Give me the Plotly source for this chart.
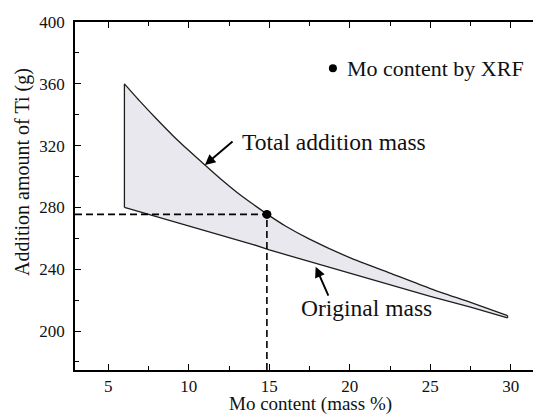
import plotly.graph_objects as go

# Mo content (mass %) sampled along both boundary curves
mo_content = [6, 7, 8, 9, 10, 11, 12, 13, 14, 15, 16, 17.5, 20, 22.5, 25, 27.5, 29.8]
# Total addition mass of Ti (g)
total_mass = [360, 348.3, 337.2, 326.6, 316.8, 307.4, 298.2, 289.7, 282, 274.7,
              268, 259.5, 247.5, 237.5, 227.5, 218.5, 210]
# Original mass of Ti (g)
original_mass = [280, 277, 274, 271, 268, 265, 262, 259, 256, 252.5,
                 249.5, 245, 237.5, 230, 222.5, 215.5, 208.5]

# Mo content measured by XRF and the matching Ti addition amount
xrf_mo = 14.85
xrf_ti = 275.5

x_range = [2.93, 31.38]
y_range = [174.8, 400]

serif = "Liberation Serif"
line_col = "#1e1e1e"

fig = go.Figure()

# lower boundary (original mass)
fig.add_trace(go.Scatter(
    x=mo_content, y=original_mass, mode="lines",
    line=dict(color=line_col, width=1.3),
    hoverinfo="skip", showlegend=False))
# upper boundary (total addition mass) with the band filled down to the lower one
fig.add_trace(go.Scatter(
    x=mo_content, y=total_mass, mode="lines", fill="tonexty",
    fillcolor="#e8e8ee",
    line=dict(color=line_col, width=1.3, shape="spline", smoothing=0.6),
    hoverinfo="skip", showlegend=False))
# closing edges of the band at both ends
for i in (0, -1):
    fig.add_trace(go.Scatter(
        x=[mo_content[i], mo_content[i]], y=[original_mass[i], total_mass[i]],
        mode="lines", line=dict(color=line_col, width=1.3),
        hoverinfo="skip", showlegend=False))

# dashed guides to the XRF point
fig.add_trace(go.Scatter(
    x=[x_range[0], xrf_mo], y=[xrf_ti, xrf_ti], mode="lines",
    line=dict(color="#000", width=1.6, dash="7px,4px"),
    hoverinfo="skip", showlegend=False))
fig.add_trace(go.Scatter(
    x=[xrf_mo, xrf_mo], y=[y_range[0], xrf_ti], mode="lines",
    line=dict(color="#000", width=1.6, dash="7px,4px"),
    hoverinfo="skip", showlegend=False))
fig.add_trace(go.Scatter(
    x=[xrf_mo], y=[xrf_ti], mode="markers",
    marker=dict(color="#000", size=9),
    hoverinfo="skip", showlegend=False))

axis_common = dict(
    showline=True, linecolor="#000", linewidth=1.5,
    ticks="inside", ticklen=6, tickwidth=1.3, tickcolor="#000",
    showgrid=False, zeroline=False,
    tickfont=dict(family=serif, size=17, color="#111"),
)

fig.update_xaxes(range=x_range, tick0=0, dtick=5, mirror="ticks",
                 ticklabelstandoff=0,
                 minor=dict(ticks="inside", ticklen=4, tickwidth=1.2,
                            tickcolor="#000", dtick=2.5, tick0=0),
                 **axis_common)
fig.update_yaxes(range=y_range, tick0=0, dtick=40, mirror=False,
                 ticklabelstandoff=5,
                 minor=dict(ticks="inside", ticklen=4, tickwidth=1.2,
                            tickcolor="#000", dtick=20, tick0=0),
                 **axis_common)

label_font = dict(family=serif, size=23.5, color="#111")
key_font = dict(family=serif, size=22, color="#111")
annotations = [
    # axis titles
    dict(text="Mo content (mass %)", xref="paper", yref="paper",
         x=0.515, y=-0.098, xanchor="center", yanchor="middle",
         showarrow=False, font=dict(family=serif, size=19, color="#111")),
    dict(text="Addition amount of Ti (g)", xref="paper", yref="paper",
         x=-0.1135, y=0.569, xanchor="center", yanchor="middle",
         textangle=-90, showarrow=False,
         font=dict(family=serif, size=20, color="#111")),
    # curve labels
    dict(text="Total addition mass", x=13.18, y=322.2, xanchor="left",
         yanchor="middle", showarrow=False, font=label_font),
    dict(text="Original mass", x=16.84, y=214.9, xanchor="left",
         yanchor="middle", showarrow=False, font=label_font),
    dict(text="Mo content by XRF", x=19.7, y=370.1, xanchor="left",
         yanchor="middle", showarrow=False, font=key_font),
    # arrows pointing at the curves
    dict(text="", x=11.0, y=307.4, ax=12.81, ay=323.5, axref="x", ayref="y",
         showarrow=True, arrowhead=2, arrowsize=1.1, arrowwidth=1.9,
         arrowcolor="#000", standoff=0),
    dict(text="", x=17.88, y=241.6, ax=18.71, ay=222.0, axref="x", ayref="y",
         showarrow=True, arrowhead=2, arrowsize=1.1, arrowwidth=1.9,
         arrowcolor="#000", standoff=0),
]

# marker symbol in front of the "Mo content by XRF" key text
shapes = [dict(type="circle", xref="x", yref="y",
               xsizemode="pixel", ysizemode="pixel",
               xanchor=18.95, yanchor=370.1,
               x0=-4, x1=4, y0=-4, y1=4,
               fillcolor="#000", line=dict(color="#000", width=0))]

fig.update_layout(
    width=533, height=414,
    margin=dict(l=75, r=0, t=22, b=44),
    paper_bgcolor="white", plot_bgcolor="white",
    font=dict(family=serif),
    annotations=annotations, shapes=shapes,
    showlegend=False,
)

fig.write_html("out.html")
